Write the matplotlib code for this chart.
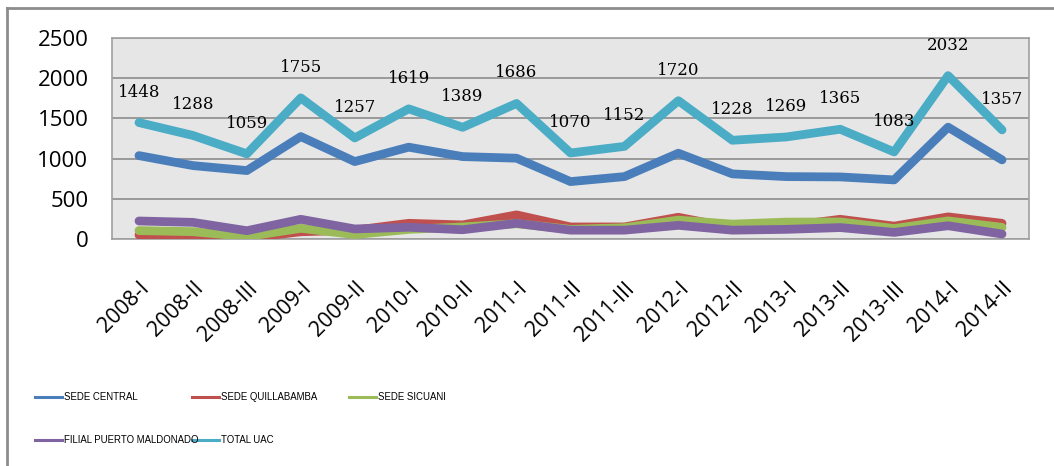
import matplotlib
matplotlib.use("Agg")
import matplotlib.pyplot as plt
from matplotlib.lines import Line2D

periods = ["2008-I", "2008-II", "2008-III", "2009-I", "2009-II", "2010-I", "2010-II",
           "2011-I", "2011-II", "2011-III", "2012-I", "2012-II", "2013-I", "2013-II",
           "2013-III", "2014-I", "2014-II"]
sede_central = [1037, 913, 851, 1274, 963, 1142, 1025, 1005, 714, 776, 1067, 810, 776, 772, 735, 1391, 984]
sede_quillabamba = [50, 41, 10, 90, 110, 195, 175, 300, 150, 150, 270, 140, 160, 245, 160, 275, 195]
sede_sicuani = [105, 91, 30, 133, 55, 120, 150, 190, 120, 140, 235, 185, 210, 212, 130, 225, 145]
filial_maldonado = [224, 207, 103, 245, 125, 146, 115, 195, 110, 110, 170, 110, 120, 142, 82, 165, 62]
total_uac = [1448, 1288, 1059, 1755, 1257, 1619, 1389, 1686, 1070, 1152, 1720, 1228, 1269, 1365, 1083, 2032, 1357]
y_ticks = [0, 500, 1000, 1500, 2000, 2500]

series = [
    ("SEDE CENTRAL", sede_central, "#4A7EBB"),
    ("SEDE QUILLABAMBA", sede_quillabamba, "#C0504D"),
    ("SEDE SICUANI", sede_sicuani, "#9BBB59"),
    ("FILIAL PUERTO MALDONADO", filial_maldonado, "#8064A2"),
    ("TOTAL UAC", total_uac, "#4BACC6"),
]

W, H = 1054, 466
fig = plt.figure(figsize=(W / 100, H / 100), dpi=100)
ax = fig.add_axes([112 / W, 1 - 239 / H, (1029 - 112) / W, (239 - 38) / H])
ax.set_facecolor("#E6E6E6")

x = list(range(len(periods)))
for name, vals, col in series:
    ax.plot(x, vals, color=col, lw=6.3, solid_joinstyle="round", solid_capstyle="round",
            label=name, zorder=3)

for xi, v in zip(x, total_uac):
    ax.annotate(str(v), (xi, v), xytext=(0, 22), textcoords="offset points",
                ha="center", va="center", fontsize=12, family="DejaVu Serif",
                color="black", zorder=5)

ax.set_xlim(-0.5, len(periods) - 0.5)
ax.set_ylim(0, 2500)
ax.set_yticks(y_ticks)
ax.set_yticklabels([str(t) for t in y_ticks], fontsize=16, family="Open Sans")
ax.set_xticks(x)
ax.set_xticklabels(periods, rotation=45, ha="right", rotation_mode="anchor",
                   fontsize=15.5, family="Open Sans")
ax.tick_params(axis="y", length=0, pad=17)
ax.tick_params(axis="x", length=0, pad=28)
ax.grid(axis="y", color="#8C8C8C", lw=1.2, zorder=1)
ax.set_axisbelow(True)
for s in ax.spines.values():
    s.set_color("#A0A0A0")
    s.set_linewidth(1.2)

# outer chart frame (left and top edges visible)
fig.add_artist(Line2D([7 / W, 7 / W], [0, 1 - 8 / H], transform=fig.transFigure,
                      color="#8C8C8C", lw=2))
fig.add_artist(Line2D([7 / W, 1], [1 - 8 / H, 1 - 8 / H], transform=fig.transFigure,
                      color="#8C8C8C", lw=2))

# legend laid out like the original (row-wise, 3 columns)
leg_pos = [(35, 397), (192, 397), (349, 397), (35, 440), (192, 440)]
for (name, vals, col), (px, py) in zip(series, leg_pos):
    fig.add_artist(Line2D([px / W, (px + 27) / W], [1 - py / H, 1 - py / H],
                          transform=fig.transFigure, color=col, lw=2.2))
    fig.text((px + 29) / W, 1 - py / H, name, ha="left", va="center", fontsize=6.9,
             family=["Liberation Sans Narrow", "Liberation Sans"], fontstretch="condensed",
             color="black")

fig.savefig("out.png", dpi=100, facecolor="white")
